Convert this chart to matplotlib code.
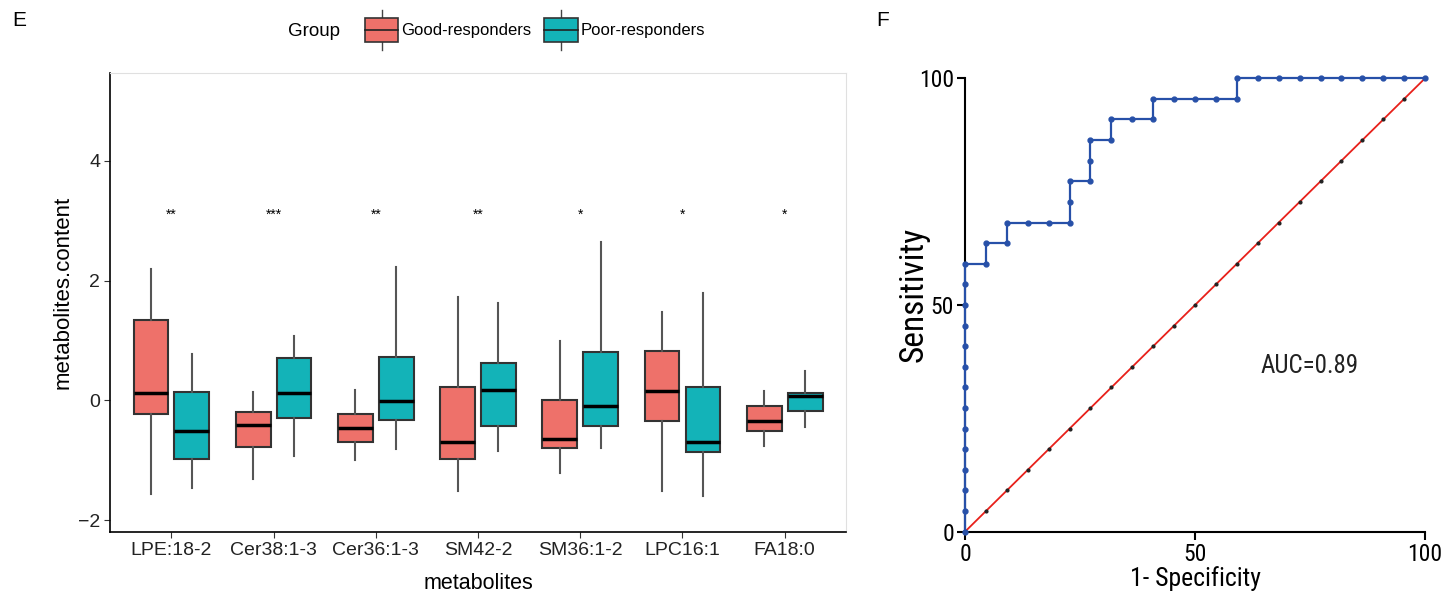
import matplotlib
matplotlib.use('Agg')
import matplotlib.pyplot as plt
from matplotlib.patches import Rectangle
from matplotlib.lines import Line2D
from matplotlib.legend_handler import HandlerBase

# ---- panel E data: box stats ----
metabolites = ['LPE:18-2', 'Cer38:1-3', 'Cer36:1-3', 'SM42-2', 'SM36:1-2', 'LPC16:1', 'FA18:0']
good_whislo = [-1.57, -1.31, -0.99, -1.51, -1.22, -1.52, -0.76]
good_q1 = [-0.22, -0.78, -0.69, -0.98, -0.79, -0.35, -0.52]
good_med = [0.12, -0.41, -0.46, -0.69, -0.64, 0.15, -0.34]
good_q3 = [1.35, -0.19, -0.22, 0.22, 0.00, 0.82, -0.10]
good_whishi = [2.19, 0.14, 0.18, 1.73, 0.99, 1.48, 0.16]
poor_whislo = [-1.46, -0.93, -0.81, -0.84, -0.79, -1.60, -0.44]
poor_q1 = [-0.98, -0.30, -0.33, -0.43, -0.43, -0.86, -0.18]
poor_med = [-0.51, 0.13, -0.01, 0.18, -0.09, -0.69, 0.07]
poor_q3 = [0.14, 0.70, 0.72, 0.63, 0.80, 0.22, 0.13]
poor_whishi = [0.77, 1.07, 2.22, 1.62, 2.65, 1.80, 0.49]
stars = ['**', '***', '**', '**', '*', '*', '*']
star_y = 3.1
groups = ['Good-responders', 'Poor-responders']
group_colors = ['#EE716A', '#13B3B8']

# ---- panel F data: ROC steps (counts out of 22 / 22) ----
n_neg = 22
n_pos = 22
roc_fp = [0, 0, 0, 0, 0, 0, 0, 0, 0, 0, 0, 0, 0, 0, 1, 1, 2, 2, 3, 4, 5, 5, 5,
          6, 6, 6, 7, 7, 8, 9, 9, 10, 11, 12, 13, 13, 14, 15, 16, 17, 18, 19, 20, 21, 22]
roc_tp = [0, 1, 2, 3, 4, 5, 6, 7, 8, 9, 10, 11, 12, 13, 13, 14, 14, 15, 15, 15, 15, 16, 17,
          17, 18, 19, 19, 20, 20, 20, 21, 21, 21, 21, 21, 22, 22, 22, 22, 22, 22, 22, 22, 22, 22]
diag_steps = list(range(n_neg + 1))
auc_text = 'AUC=0.89'

plt.rcParams['font.family'] = ['Liberation Sans', 'DejaVu Sans']
narrow = ['Roboto Condensed', 'Liberation Sans']


class BoxHandler(HandlerBase):
    # boxplot-looking legend key, like ggplot's
    def create_artists(self, legend, orig, xd, yd, width, height, fontsize, trans):
        fc = orig.get_facecolor()
        x0, y0 = -xd, -yd
        r = Rectangle((x0, y0), width, height, facecolor=fc,
                      edgecolor='#333333', lw=1.2, transform=trans)
        m = Line2D([x0, x0 + width], [y0 + height / 2] * 2, color='#222222', lw=1.2, transform=trans)
        w1 = Line2D([x0 + width / 2] * 2, [y0 - height * 0.33, y0], color='#444444', lw=1, transform=trans)
        w2 = Line2D([x0 + width / 2] * 2, [y0 + height, y0 + height * 1.33], color='#444444', lw=1, transform=trans)
        return [w1, w2, r, m]


fig = plt.figure(figsize=(14.44, 6.10), dpi=100)

# ================= panel E =================
ax = fig.add_axes([0.0762, 0.1279, 0.5097, 0.7524])
ax.set_facecolor('white')
width = 0.34
for g, (lo, q1, med, q3, hi) in enumerate([
        (good_whislo, good_q1, good_med, good_q3, good_whishi),
        (poor_whislo, poor_q1, poor_med, poor_q3, poor_whishi)]):
    stats = []
    for i in range(len(metabolites)):
        stats.append({'whislo': lo[i], 'q1': q1[i], 'med': med[i], 'q3': q3[i],
                      'whishi': hi[i], 'fliers': []})
    pos = [i + 1 + (-0.2 if g == 0 else 0.2) for i in range(len(metabolites))]
    ax.bxp(stats, positions=pos, widths=width, patch_artist=True, showcaps=False,
           boxprops=dict(facecolor=group_colors[g], edgecolor='#333333', lw=1.5),
           medianprops=dict(color='black', lw=2.5),
           whiskerprops=dict(color='#555555', lw=1.5))

for i, s in enumerate(stars):
    ax.text(i + 1, star_y, s, ha='center', va='center', fontsize=10)

ax.set_xlim(0.4, len(metabolites) + 0.6)
ax.set_ylim(-2.2, 5.47)
ax.set_yticks([-2, 0, 2, 4])
ax.set_yticklabels(['\u22122', '0', '2', '4'])
ax.set_xticks(range(1, len(metabolites) + 1))
ax.set_xticklabels(metabolites)
ax.tick_params(labelsize=14, length=4, color='#333333', labelcolor='#222222', pad=3)
ax.set_xlabel('metabolites', fontsize=15.5, labelpad=10)
ax.set_ylabel('metabolites.content', fontsize=16)
ax.yaxis.set_label_coords(-0.049, 0.523)
for side in ['top', 'right']:
    ax.spines[side].set_color('#E0E0E0')
for side in ['left', 'bottom']:
    ax.spines[side].set_color('black')
    ax.spines[side].set_linewidth(1.2)

handles = [Rectangle((0, 0), 1, 1, facecolor=c) for c in group_colors]
fig.legend(handles, groups, handler_map={Rectangle: BoxHandler()}, ncol=2, frameon=False,
           loc='center left', bbox_to_anchor=(365 / 1444, 1 - 30 / 610), borderpad=0,
           borderaxespad=0, handlelength=2.0, handleheight=1.84, handletextpad=0.15,
           columnspacing=0.8, fontsize=12)
fig.text(288 / 1444, 1 - 32 / 610, 'Group', fontsize=13.5, ha='left', va='center')
fig.text(12 / 1444, 1 - 20 / 610, 'E', fontsize=15, ha='left', va='center')

# ================= panel F =================
ax2 = fig.add_axes([0.6683, 0.1284, 0.3186, 0.7433])
fx = [v * 100 / n_neg for v in roc_fp]
fy = [v * 100 / n_pos for v in roc_tp]
dd = [v * 100 / n_neg for v in diag_steps]
ax2.plot(dd, dd, color='#E8201A', lw=1.3, zorder=2)
ax2.plot(dd, dd, ls='none', marker='o', ms=2, color='#222222', zorder=3, clip_on=False)
ax2.plot(fx, fy, color='#2750A8', lw=1.6, marker='o', ms=3.5, zorder=4, clip_on=False)
ax2.text(75, 36.5, auc_text, family=narrow, fontsize=18, ha='center', va='center', color='#222222')

ax2.set_xlim(0, 100)
ax2.set_ylim(0, 100)
ax2.set_xticks([0, 50, 100])
ax2.set_yticks([0, 50, 100])
for t in ax2.get_xticklabels() + ax2.get_yticklabels():
    t.set_family(narrow)
ax2.tick_params(labelsize=17, length=6, width=1.5, color='black', pad=2)
ax2.set_xlabel('1- Specificity', family=narrow, fontsize=18.5, labelpad=0)
ax2.set_ylabel('Sensitivity', family=narrow, fontsize=24)
ax2.yaxis.set_label_coords(-0.078, 0.523)
ax2.spines['top'].set_visible(False)
ax2.spines['right'].set_visible(False)
for side in ['left', 'bottom']:
    ax2.spines[side].set_linewidth(1.5)
fig.text(876 / 1444, 1 - 20 / 610, 'F', fontsize=15, ha='left', va='center')

fig.savefig('out.png', dpi=100)
